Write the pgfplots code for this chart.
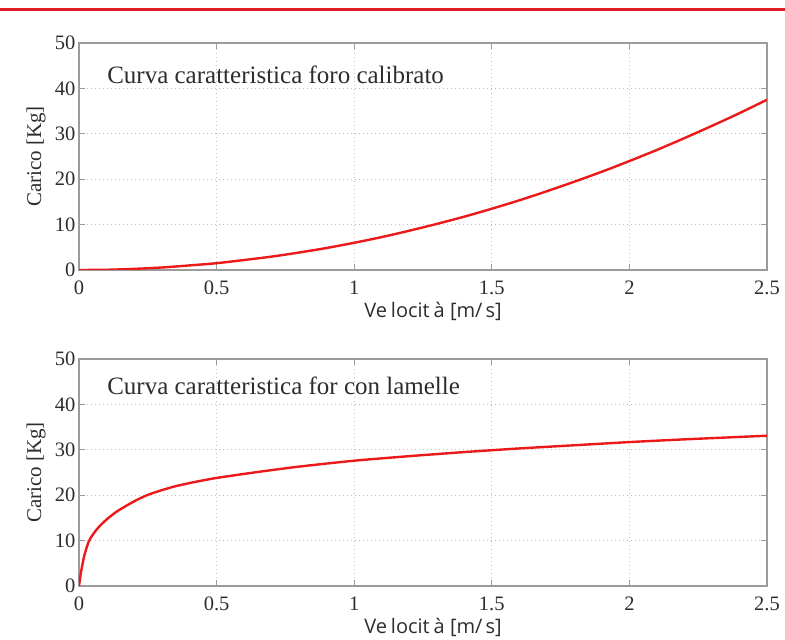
\documentclass[border=0pt]{standalone}
\usepackage{pgfplots}
\pgfplotsset{compat=1.18}
\usepackage{fontspec}
\setmainfont{Liberation Serif}
\newfontfamily\labsans{Open Sans}
\definecolor{axgray}{RGB}{155,155,155}
\definecolor{curvered}{RGB}{235,25,25}
\definecolor{topred}{RGB}{225,30,40}
\definecolor{txt}{RGB}{45,45,45}

\pgfplotstableread{
x y
0 0
0.1 0.05
0.2 0.25
0.3 0.55
0.4 1.0
0.5 1.5
0.6 2.2
0.7 2.95
0.8 3.85
0.9 4.85
1.0 6.0
1.1 7.25
1.2 8.65
1.3 10.15
1.4 11.75
1.5 13.5
1.6 15.35
1.7 17.35
1.8 19.45
1.9 21.65
2.0 24.0
2.1 26.45
2.2 29.05
2.3 31.75
2.4 34.55
2.5 37.5
}\foro

\pgfplotstableread{
x y
0 0
0.003 1.3
0.008 3.3
0.0185 6.5
0.028 8.5
0.037 10
0.05 11.3
0.065 12.5
0.08 13.5
0.105 14.9
0.135 16.3
0.167 17.5
0.205 18.8
0.247 20
0.3 21.1
0.352 22.0
0.42 22.9
0.5 23.8
0.648 25.1
0.8 26.3
1.0 27.6
1.2 28.6
1.4 29.5
1.6 30.3
1.8 31.0
2.0 31.7
2.2 32.3
2.5 33.1
}\lamelle

\pgfplotsset{
 myax/.style={
  scale only axis, width=688pt, height=227pt,
  xmin=0, xmax=2.5, ymin=0, ymax=50,
  xtick={0,0.5,1,1.5,2,2.5},
  ytick={0,10,20,30,40,50},
  grid=major,
  major grid style={gray!50, line width=0.9pt, dash pattern=on 1pt off 3pt},
  axis line style={axgray, line width=1.6pt},
  tick style={axgray, line width=1pt},
  major tick length=6pt,
  tick align=inside, tick pos=both,
  tick label style={font=\fontsize{20.5}{24}\selectfont, txt},
  xticklabel style={yshift=-7pt},
  /pgf/number format/assume math mode=true,
  xlabel={Ve\hspace{0.2em}locit\hspace{0.2em}à [m/\hspace{0.15em}s]},
  xlabel style={font=\labsans\fontsize{20}{24}\selectfont, txt,
     at={([xshift=10pt,yshift=-41pt]axis description cs:0.5,0)}, anchor=center},
  ylabel={Carico [Kg]},
  ylabel style={font=\fontsize{21}{25}\selectfont, txt,
     at={([xshift=-43pt]axis description cs:0,0.5)}, anchor=center},
 }
}

\begin{document}
\begin{tikzpicture}
\useasboundingbox (0,0) rectangle (785pt,640pt);
\draw[topred, line width=3pt] (0,630pt) -- (785pt,630pt);

\begin{axis}[myax, at={(79pt,370pt)}, anchor=south west]
\addplot[curvered, line width=2.4pt, smooth] table[x=x,y=y] {\foro};
\node[anchor=west, txt, font=\fontsize{25}{30}\selectfont] at (axis cs:0.09,43) {Curva caratteristica foro calibrato};
\end{axis}

\begin{axis}[myax, at={(79pt,54pt)}, anchor=south west]
\addplot[curvered, line width=2.4pt, smooth, tension=0.4] table[x=x,y=y] {\lamelle};
\node[anchor=west, txt, font=\fontsize{25}{30}\selectfont] at (axis cs:0.09,44) {Curva caratteristica for con lamelle};
\end{axis}
\end{tikzpicture}
\end{document}
